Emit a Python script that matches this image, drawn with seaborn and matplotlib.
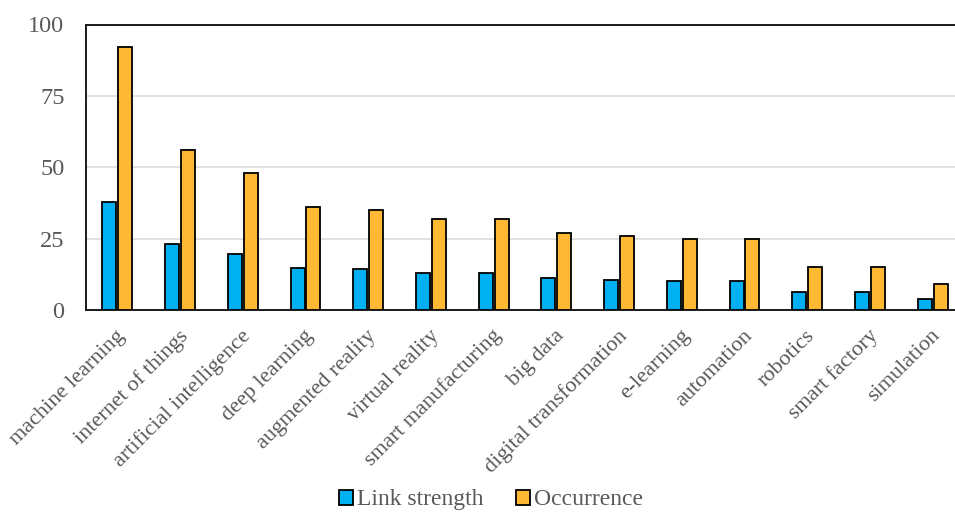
import matplotlib
matplotlib.use("Agg")
import matplotlib.pyplot as plt
import matplotlib.transforms as mtransforms
from matplotlib.patches import Patch
import seaborn as sns
import pandas as pd

keywords = [
    "machine learning", "internet of things", "artificial intelligence",
    "deep learning", "augmented reality", "virtual reality",
    "smart manufacturing", "big data", "digital transformation",
    "e-learning", "automation", "robotics", "smart factory", "simulation",
]
link_strength = [37.7, 23.0, 19.6, 14.8, 14.5, 13.1, 13.1, 11.2, 10.6, 10.2, 10.2, 6.3, 6.3, 3.7]
occurrence = [92, 56, 48, 36, 35, 32, 32, 27, 26, 25, 25, 15, 15, 9]
series_names = ["Link strength", "Occurrence"]
y_ticks = [0, 25, 50, 75, 100]

df = pd.DataFrame({
    "keyword": keywords * 2,
    "value": link_strength + occurrence,
    "series": [series_names[0]] * len(keywords) + [series_names[1]] * len(keywords),
})

sns.set_style("white")
plt.rcParams["font.family"] = ["Liberation Serif", "DejaVu Serif"]
text_color = "#595959"
palette = {"Link strength": "#00B0F0", "Occurrence": "#FDB933"}

fig = plt.figure(figsize=(9.55, 5.13), dpi=100)
ax = fig.add_axes([86 / 955, 1 - 310 / 513, 878 / 955, 285.5 / 513])

sns.barplot(
    data=df, x="keyword", y="value", hue="series", order=keywords,
    hue_order=series_names, palette=palette, width=0.51, gap=0.125,
    edgecolor="black", linewidth=1.3, saturation=1, legend=False, ax=ax,
    zorder=3,
)

ax.set_xlim(-0.5, 13.5)
ax.set_ylim(0, 100)
ax.set_yticks(y_ticks)
ax.set_yticklabels([str(t) for t in y_ticks])
ax.yaxis.grid(True, color="#D9D9D9", linewidth=1.1, zorder=0)
ax.set_axisbelow(True)
ax.set_xlabel("")
ax.set_ylabel("")

for side in ["left", "top", "bottom"]:
    ax.spines[side].set_visible(True)
    ax.spines[side].set_color("#1a1a1a")
    ax.spines[side].set_linewidth(1.4)
ax.spines["right"].set_visible(False)

ax.tick_params(axis="y", length=0, pad=15.5, labelsize=17.5, labelcolor=text_color)
ax.tick_params(axis="x", length=0, pad=0, labelsize=16, labelcolor=text_color)

offset = mtransforms.ScaledTranslation(5 / 100, -23 / 100, fig.dpi_scale_trans)
for lbl in ax.get_xticklabels():
    lbl.set_rotation(45)
    lbl.set_ha("right")
    lbl.set_va("center")
    lbl.set_rotation_mode("anchor")
    lbl.set_transform(lbl.get_transform() + offset)

handles = [Patch(facecolor=palette[s], edgecolor="black", linewidth=1.3) for s in series_names]
fig.legend(
    handles, series_names, loc="center", bbox_to_anchor=(491 / 955, 1 - 500 / 513),
    ncol=2, frameon=False, fontsize=17, labelcolor=text_color,
    handlelength=0.6, handleheight=0.6, handletextpad=0.15, columnspacing=1.4,
)

fig.savefig("out.png", dpi=100)
